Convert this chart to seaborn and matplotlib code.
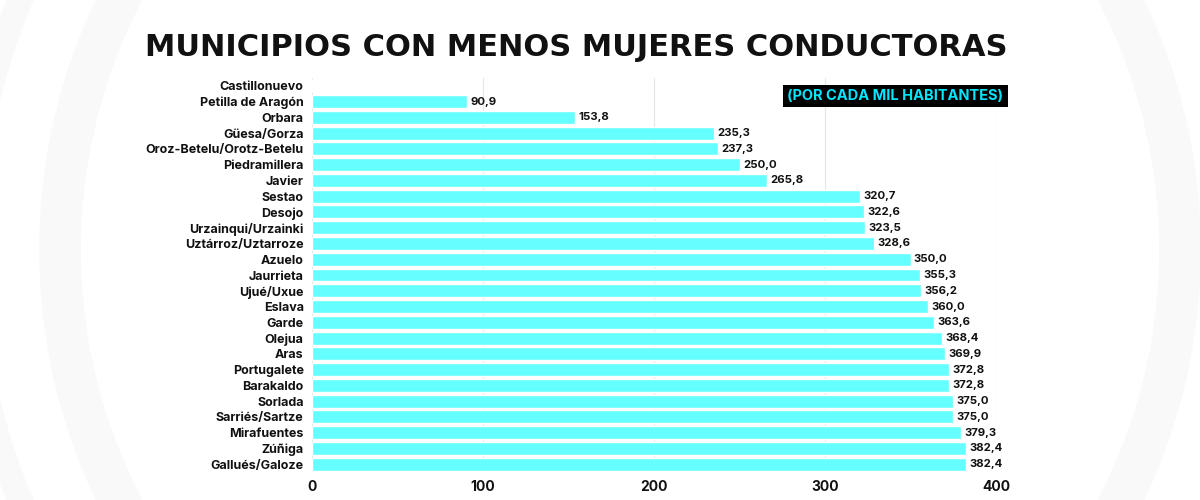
import matplotlib
matplotlib.use("Agg")
import matplotlib.pyplot as plt
from matplotlib.patches import Circle
import pandas as pd
import seaborn as sns

municipios = [
    "Castillonuevo", "Petilla de Aragón", "Orbara", "Güesa/Gorza",
    "Oroz-Betelu/Orotz-Betelu", "Piedramillera", "Javier", "Sestao", "Desojo",
    "Urzainqui/Urzainki", "Uztárroz/Uztarroze", "Azuelo", "Jaurrieta",
    "Ujué/Uxue", "Eslava", "Garde", "Olejua", "Aras", "Portugalete",
    "Barakaldo", "Sorlada", "Sarriés/Sartze", "Mirafuentes", "Zúñiga",
    "Gallués/Galoze",
]
valores = [
    0.0, 90.9, 153.8, 235.3, 237.3, 250.0, 265.8, 320.7, 322.6, 323.5, 328.6,
    350.0, 355.3, 356.2, 360.0, 363.6, 368.4, 369.9, 372.8, 372.8, 375.0,
    375.0, 379.3, 382.4, 382.4,
]
xticks = [0, 100, 200, 300, 400]

df = pd.DataFrame({"municipio": municipios, "valor": valores})

sns.set_style("white")
plt.rcParams["font.family"] = ["Inter", "DejaVu Sans"]

fig = plt.figure(figsize=(12, 5), dpi=100)
fig.patch.set_facecolor("white")

# faint concentric rings in the background
bg = fig.add_axes([0, 0, 1, 1], zorder=-1)
bg.set_xlim(0, 1200)
bg.set_ylim(500, 0)
bg.set_aspect("equal")
bg.axis("off")
for r, w in [(560, 30), (650, 18), (760, 26)]:
    bg.add_patch(Circle((620, 250), r, fill=False, edgecolor="#f9f9f9", linewidth=w))

ax = fig.add_axes([0.26, 0.056, 0.57, 0.788])
ax.set_facecolor("none")
sns.barplot(data=df, y="municipio", x="valor", color="#66ffff", saturation=1,
            width=0.82, ax=ax, zorder=2)

for i, v in enumerate(valores):
    if v > 0:
        ax.text(v + 2, i, f"{v:.1f}".replace(".", ","), va="center", ha="left",
                fontsize=8.2, fontweight="bold", color="#111111")

ax.set_xlim(0, 400)
ax.set_xticks(xticks)
ax.set_xticklabels([str(t) for t in xticks], fontsize=10, fontweight="bold",
                   color="#111111")
ax.tick_params(axis="x", length=0, pad=6)
ax.tick_params(axis="y", length=0, pad=6)
for lbl in ax.get_yticklabels():
    lbl.set_fontsize(9)
    lbl.set_fontweight("bold")
    lbl.set_color("#111111")
ax.set_xlabel("")
ax.set_ylabel("")
ax.xaxis.grid(True, color="#e6e6e6", linewidth=0.8, zorder=0)
ax.set_axisbelow(True)
for s in ax.spines.values():
    s.set_visible(False)
ax.set_ylim(len(municipios) - 0.5, -0.5)

fig.text(0.48, 0.905, "MUNICIPIOS CON MENOS MUJERES CONDUCTORAS",
         fontsize=22, fontweight="bold", color="#111111", ha="center", va="center",
         family=["DejaVu Sans"])

fig.text(0.836, 0.808, "(POR CADA MIL HABITANTES)", fontsize=10.5, fontweight="bold",
         color="#00e6ff", ha="right", va="center",
         bbox=dict(boxstyle="square,pad=0.3", facecolor="black", edgecolor="none"))

fig.savefig("out.png", dpi=100, facecolor="white")
